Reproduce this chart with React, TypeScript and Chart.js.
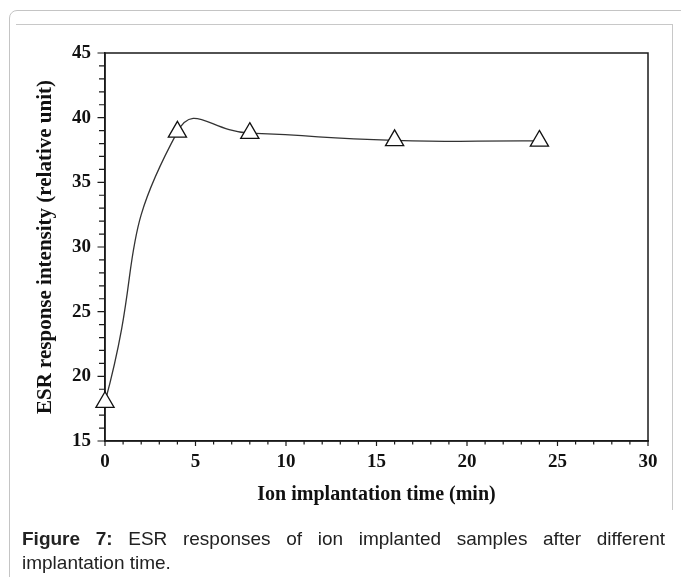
import React, { useEffect, useRef } from "react";
import { Chart, registerables } from "chart.js";

Chart.register(...registerables);

const implantTime = [0, 4, 8, 16, 24];
const esrIntensity = [18.0, 38.9, 38.8, 38.25, 38.2];
const xTickLabels = [0, 5, 10, 15, 20, 25, 30];
const yTickLabels = [15, 20, 25, 30, 35, 40, 45];
const xTitle = "Ion implantation time (min)";
const yTitle = "ESR response intensity (relative unit)";

const framePlugin = {
  id: "frameAndMinorTicks",
  beforeDatasetsDraw(chart: any) {
    const { ctx, chartArea, scales } = chart;
    const x = scales.x;
    const y = scales.y;
    ctx.save();
    ctx.strokeStyle = "#1a1a1a";
    ctx.lineWidth = 1.5;
    ctx.strokeRect(chartArea.left, chartArea.top, chartArea.right - chartArea.left, chartArea.bottom - chartArea.top);
    ctx.lineWidth = 1.2;
    ctx.beginPath();
    x.ticks.forEach((t: any) => {
      const px = x.getPixelForValue(t.value);
      const len = xTickLabels.includes(t.value) ? 5 : 3.5;
      ctx.moveTo(px, chartArea.bottom);
      ctx.lineTo(px, chartArea.bottom + len);
    });
    y.ticks.forEach((t: any) => {
      const py = y.getPixelForValue(t.value);
      const len = yTickLabels.includes(t.value) ? 7.5 : 6;
      ctx.moveTo(chartArea.left, py);
      ctx.lineTo(chartArea.left - len, py);
    });
    ctx.stroke();
    ctx.restore();
  },
};

export default function App() {
  const ref = useRef<HTMLCanvasElement | null>(null);

  useEffect(() => {
    if (!ref.current) return;
    const chart = new Chart(ref.current, {
      type: "line",
      data: {
        datasets: [
          {
            data: implantTime.map((t, i) => ({ x: t, y: esrIntensity[i] })),
            borderColor: "#333333",
            borderWidth: 1.3,
            tension: 0.55,
            pointStyle: "triangle",
            pointRadius: 10.5,
            pointBackgroundColor: "#ffffff",
            pointBorderColor: "#111111",
            pointBorderWidth: 1.3,
            clip: false as any,
          },
        ],
      },
      options: {
        responsive: false,
        animation: false,
        layout: { padding: { left: 33, top: 53, right: 33, bottom: 70 } },
        plugins: { legend: { display: false }, tooltip: { enabled: false } },
        scales: {
          x: {
            type: "linear",
            min: 0,
            max: 30,
            afterFit: (s: any) => {
              s.height = 66;
            },
            ticks: {
              stepSize: 1,
              autoSkip: false,
              maxRotation: 0,
              padding: 10,
              color: "#111",
              font: { family: "Liberation Serif", size: 19, weight: "bold" },
              callback: (v: any) => (xTickLabels.includes(Number(v)) ? String(v) : ""),
            },
            grid: { display: true, drawOnChartArea: false, drawTicks: false },
            border: { display: true, color: "#1a1a1a", width: 1.5 },
            title: {
              display: true,
              text: xTitle,
              color: "#111",
              padding: 0,
              font: { family: "Liberation Serif", size: 20, weight: "bold" },
            },
          },
          y: {
            type: "linear",
            min: 15,
            max: 45,
            afterFit: (s: any) => {
              s.width = 72;
            },
            ticks: {
              stepSize: 1,
              autoSkip: false,
              padding: 14,
              color: "#111",
              font: { family: "Liberation Serif", size: 19, weight: "bold" },
              callback: (v: any) => (yTickLabels.includes(Number(v)) ? String(v) : ""),
            },
            grid: { display: true, drawOnChartArea: false, drawTicks: false },
            border: { display: true, color: "#1a1a1a", width: 1.5 },
            title: {
              display: true,
              text: yTitle,
              color: "#111",
              padding: 0,
              font: { family: "Liberation Serif", size: 21, weight: "bold" },
            },
          },
        },
      },
      plugins: [framePlugin],
    });
    return () => chart.destroy();
  }, []);

  return (
    <div style={{ position: "fixed", left: 0, top: 0, width: 681, height: 577, overflow: "hidden", background: "#fff" }}>
      <div
        style={{
          position: "absolute",
          left: 9,
          top: 10,
          width: 720,
          height: 620,
          border: "1px solid #c4c4c4",
          borderRadius: 8,
          boxSizing: "border-box",
        }}
      />
      <div
        style={{
          position: "absolute",
          left: 16,
          top: 24,
          width: 657,
          height: 486,
          borderTop: "1px solid #c8c8c8",
          borderRight: "1px solid #c8c8c8",
          boxSizing: "border-box",
        }}
      />
      <canvas
        ref={ref}
        width={681}
        height={577}
        style={{ position: "absolute", left: 0, top: 0, width: 681, height: 577 }}
      />
      <div
        style={{
          position: "absolute",
          left: 22,
          top: 527,
          width: 643,
          fontFamily: "Liberation Sans, Arial, sans-serif",
          fontSize: 19,
          lineHeight: "24px",
          color: "#222",
          textAlign: "justify",
        }}
      >
        <b>Figure 7:</b> ESR responses of ion implanted samples after different implantation time.
      </div>
    </div>
  );
}
